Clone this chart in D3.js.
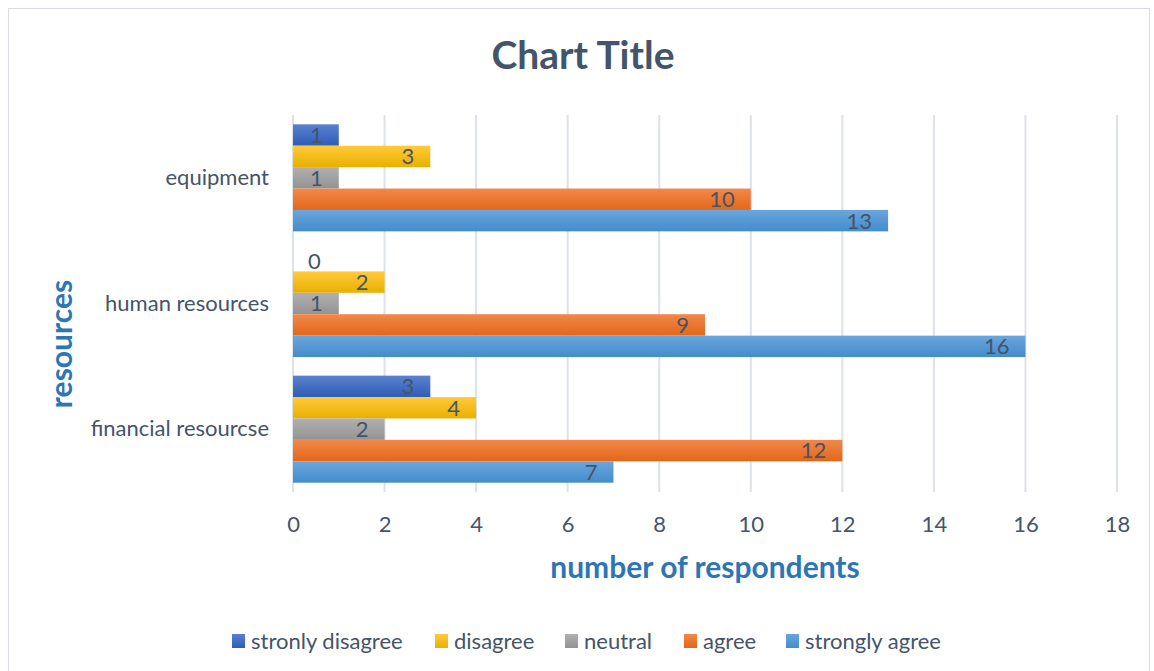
<!DOCTYPE html>
<html><head><meta charset="utf-8">
<script src="https://cdn.jsdelivr.net/npm/d3@7"></script>
<style>body{margin:0;background:#fff}svg{display:block}</style>
</head><body>
<svg id="c" width="1154" height="671"></svg>
<script>
const categories = ["equipment", "human resources", "financial resourcse"];
const seriesNames = ["stronly disagree", "disagree", "neutral", "agree", "strongly agree"];
const stronglyDisagree = [1, 0, 3];
const disagree = [3, 2, 4];
const neutral = [1, 1, 2];
const agree = [10, 9, 12];
const stronglyAgree = [13, 16, 7];
const xTicks = [0, 2, 4, 6, 8, 10, 12, 14, 16, 18];
const seriesValues = [stronglyDisagree, disagree, neutral, agree, stronglyAgree];
const colors = [["#5a82d0", "#2f5cb5"], ["#ffca3a", "#e8b000"], ["#b0b0b0", "#939393"], ["#f2884a", "#e2671a"], ["#6aa6dc", "#438ccb"]];

const font = "Lato, 'Open Sans', sans-serif";
const txt = "#44546a";
const svg = d3.select("#c");

// border
svg.append("rect").attr("x", 8.5).attr("y", 8.5).attr("width", 1141).attr("height", 680)
  .attr("fill", "#fff").attr("stroke", "#d9dde3").attr("stroke-width", 1);

const defs = svg.append("defs");
colors.forEach((c, i) => {
  const g = defs.append("linearGradient").attr("id", "g" + i).attr("x1", 0).attr("y1", 0).attr("x2", 0).attr("y2", 1);
  g.append("stop").attr("offset", "0%").attr("stop-color", c[0]);
  g.append("stop").attr("offset", "100%").attr("stop-color", c[1]);
});

const x = d3.scaleLinear().domain([0, 18]).range([293, 1117]);
const y = d3.scaleBand().domain(categories).range([115, 492]).paddingInner(0.148).paddingOuter(0.074);
const ys = d3.scaleBand().domain(seriesNames).range([0, y.bandwidth()]);

// gridlines
svg.append("g").selectAll("line").data(xTicks).join("line")
  .attr("x1", d => x(d)).attr("x2", d => x(d)).attr("y1", 115).attr("y2", 492)
  .attr("stroke", "#dde1e8").attr("stroke-width", 2);

// bars
const groups = svg.append("g").selectAll("g").data(categories).join("g")
  .attr("transform", c => `translate(0,${y(c)})`);
seriesNames.forEach((s, si) => {
  groups.append("rect")
    .attr("x", x(0)).attr("y", ys(s))
    .attr("width", (c, ci) => x(seriesValues[si][ci]) - x(0))
    .attr("height", ys.bandwidth())
    .attr("fill", `url(#g${si})`);
  groups.append("text")
    .attr("x", (c, ci) => { const v = seriesValues[si][ci]; return v === 0 ? x(0) + 15 : x(v) - 16; })
    .attr("text-anchor", (c, ci) => seriesValues[si][ci] === 0 ? "start" : "end")
    .attr("y", ys(s) + ys.bandwidth() / 2).attr("dy", "0.36em")
    .attr("font-family", font).attr("font-size", 22).attr("fill", txt)
    .text((c, ci) => seriesValues[si][ci]);
});

// axes labels
const xAxis = d3.axisBottom(x).tickValues(xTicks).tickSize(0).tickPadding(0);
const xg = svg.append("g").attr("transform", "translate(0,524)").call(xAxis);
xg.select(".domain").remove();
xg.selectAll("text").attr("font-family", font).attr("font-size", 22).attr("fill", txt).attr("dy", "0.36em");

const yAxis = d3.axisLeft(y).tickSize(0).tickPadding(0);
const yg = svg.append("g").attr("transform", "translate(269,0)").call(yAxis);
yg.select(".domain").remove();
yg.selectAll("text").attr("font-family", font).attr("font-size", 22).attr("fill", txt);

// titles
svg.append("text").attr("x", 583).attr("y", 69).attr("text-anchor", "middle")
  .attr("font-family", font).attr("font-weight", "bold").attr("font-size", 39).attr("fill", txt).text("Chart Title");
svg.append("text").attr("x", 705).attr("y", 578).attr("text-anchor", "middle")
  .attr("font-family", font).attr("font-weight", "bold").attr("font-size", 30).attr("fill", "#2e75b6").text("number of respondents");
svg.append("text").attr("transform", "translate(72,344) rotate(-90)").attr("text-anchor", "middle")
  .attr("font-family", font).attr("font-weight", "bold").attr("font-size", 30).attr("fill", "#2e75b6").text("resources");

// legend
const legendX = [232, 435, 565, 684, 786];
const lg = svg.append("g").selectAll("g").data(seriesNames).join("g")
  .attr("transform", (d, i) => `translate(${legendX[i]},634)`);
lg.append("rect").attr("width", 13).attr("height", 14).attr("fill", (d, i) => `url(#g${i})`);
lg.append("text").attr("x", 19).attr("y", 7).attr("dy", "0.36em")
  .attr("font-family", font).attr("font-size", 22).attr("fill", txt).text(d => d);
</script>
</body></html>
